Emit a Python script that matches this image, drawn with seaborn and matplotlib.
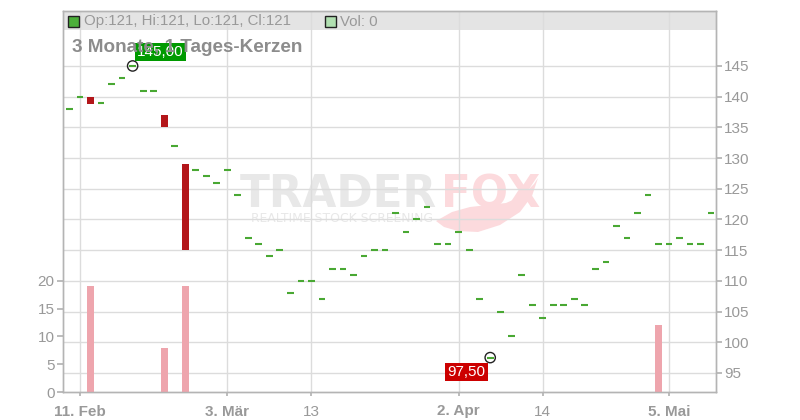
import numpy as np
import matplotlib
matplotlib.use("Agg")
import matplotlib.pyplot as plt
from matplotlib.patches import Rectangle, Polygon
import seaborn as sns

# Set visual style
sns.set_theme(style="white")
plt.rcParams['font.family'] = ['Liberation Sans', 'DejaVu Sans']

# trading days, 10 Feb - 9 May
dates = ['10.02', '11.02', '12.02', '13.02', '14.02', '17.02', '18.02', '19.02', '20.02', '21.02',
         '24.02', '25.02', '26.02', '27.02', '28.02', '03.03', '04.03', '05.03', '06.03', '07.03',
         '10.03', '11.03', '12.03', '13.03', '14.03', '17.03', '18.03', '19.03', '20.03', '21.03',
         '24.03', '25.03', '26.03', '27.03', '28.03', '31.03', '01.04', '02.04', '03.04', '04.04',
         '07.04', '08.04', '09.04', '10.04', '11.04', '14.04', '15.04', '16.04', '17.04', '22.04',
         '23.04', '24.04', '25.04', '28.04', '29.04', '30.04', '02.05', '05.05', '06.05', '07.05',
         '08.05', '09.05']
opens = [138, 140, 140, 139, 142, 143, 145, 141, 141, 137,
         132, 129, 128, 127, 126, 128, 124, 117, 116, 114,
         115, 108, 110, 110, 107, 112, 112, 111, 114, 115,
         115, 121, 118, 120, 122, 116, 116, 118, 115, 107,
         97.5, 105, 101, 111, 106, 104, 106, 106, 107, 106,
         112, 113, 119, 117, 121, 124, 116, 116, 117, 116,
         116, 121]
closes = [138, 140, 138.8, 139, 142, 143, 145, 141, 141, 135,
          132, 115, 128, 127, 126, 128, 124, 117, 116, 114,
          115, 108, 110, 110, 107, 112, 112, 111, 114, 115,
          115, 121, 118, 120, 122, 116, 116, 118, 115, 107,
          97.5, 105, 101, 111, 106, 104, 106, 106, 107, 106,
          112, 113, 119, 117, 121, 124, 116, 116, 117, 116,
          116, 121]
volumes = [0, 0, 19, 0, 0, 0, 0, 0, 0, 8,
           0, 19, 0, 0, 0, 0, 0, 0, 0, 0,
           0, 0, 0, 0, 0, 0, 0, 0, 0, 0,
           0, 0, 0, 0, 0, 0, 0, 0, 0, 0,
           0, 0, 0, 0, 0, 0, 0, 0, 0, 0,
           0, 0, 0, 0, 0, 0, 12, 0, 0, 0,
           0, 0]
tick_days = [1, 15, 23, 37, 45, 57]
tick_labels = ['11. Feb', '3. Mär', '13', '2. Apr', '14', '5. Mai']
tick_bold = [True, True, False, True, False, True]
price_ticks = [95, 100, 105, 110, 115, 120, 125, 130, 135, 140, 145]
vol_ticks = [0, 5, 10, 15, 20]
title = '3 Monate, 1 Tages-Kerzen'
legend_ohlc = 'Op:121, Hi:121, Lo:121, Cl:121'
legend_vol = 'Vol: 0'

idx = np.arange(len(dates))
o = np.array(opens, dtype=float)
c = np.array(closes, dtype=float)

GREEN = '#49a833'
RED = '#b3161a'
PINK = '#eea5ad'
GRID = '#dcdcdc'
TXT = '#999999'
SPINE = '#b4b4b4'
WM_GREY = '#e8e8e8'
WM_PINK = '#fcdadd'


def fx(px):
    return px / 800


def fy(py):
    return (420 - py) / 420


fig = plt.figure(figsize=(8, 4.2), dpi=100)
ax = fig.add_axes([fx(63), fy(392), fx(653), 381 / 420])
ax_vol = ax.twinx()

# price axis (right)
ax.set_xlim(-0.62, 61.47)
ax.set_ylim(91.9, 153.95)
ax.set_axisbelow(True)
ax.grid(True, color=GRID, lw=1)
ax.yaxis.tick_right()
ax.set_yticks(price_ticks)
ax.set_xticks(tick_days)
ax.set_xticklabels(tick_labels)
for lbl, b in zip(ax.get_xticklabels(), tick_bold):
    lbl.set_fontweight('bold' if b else 'normal')
ax.tick_params(axis='y', right=True, left=False, length=4, pad=2, colors=SPINE,
               labelcolor=TXT, labelsize=11)
ax.tick_params(axis='x', bottom=True, length=3, pad=6, colors=SPINE,
               labelcolor=TXT, labelsize=11)

# header band behind grid
ax.add_patch(Rectangle((0, 0.9501), 1, 0.0499, transform=ax.transAxes,
                       facecolor='#e4e4e4', edgecolor='none', zorder=0.2))

# watermark
ax.text(fx(240), fy(207), 'TRADER', transform=fig.transFigure,
        fontsize=31.5, fontweight='bold', family='DejaVu Sans', color=WM_GREY,
        va='baseline', ha='left', zorder=0.3)
ax.text(fx(441), fy(207), 'FOX', transform=fig.transFigure,
        fontsize=31.5, fontweight='bold', family='DejaVu Sans', color=WM_PINK,
        va='baseline', ha='left', zorder=0.3)
ax.text(fx(251), fy(219), 'REALTIME STOCK SCREENING', transform=fig.transFigure,
        fontsize=8.9, family='DejaVu Sans', color=WM_GREY,
        va='center', ha='left', zorder=0.3)
# fox tail swoosh
tail = [(436, 221), (452, 212), (470, 207), (488, 205), (506, 203), (522, 196),
        (534, 184), (538, 178), (532, 196), (520, 212), (500, 225), (478, 232),
        (458, 231), (444, 227)]
ax.add_patch(Polygon([(fx(px), fy(py)) for px, py in tail], closed=True,
                     transform=fig.transFigure, facecolor=WM_PINK, edgecolor='none',
                     zorder=0.3))

# candles: flat days as dashes, falling days as red bodies
flat = o == c
ax.hlines(c[flat], idx[flat] - 0.32, idx[flat] + 0.32, color=GREEN, lw=1.5, zorder=3)
down = c < o
ax.bar(idx[down], o[down] - c[down], bottom=c[down], width=0.65, color=RED,
       linewidth=0, zorder=3)

# extremes
hi_i = int(np.argmax(c))
lo_i = int(np.argmin(c))
ax.scatter([hi_i, lo_i], [c[hi_i], c[lo_i]], s=55, facecolor='none',
           edgecolor='#222222', linewidth=1, zorder=4)
ax.annotate(f'{c[hi_i]:.2f}'.replace('.', ','), (hi_i, c[hi_i]), xytext=(20, 10),
            textcoords='offset points', ha='center', va='center', color='white',
            fontsize=11, zorder=5,
            bbox=dict(boxstyle='square,pad=0.15', fc='#009a00', ec='none'))
ax.annotate(f'{c[lo_i]:.2f}'.replace('.', ','), (lo_i, c[lo_i]), xytext=(-17, -10.5),
            textcoords='offset points', ha='center', va='center', color='white',
            fontsize=11, zorder=5,
            bbox=dict(boxstyle='square,pad=0.15', fc='#cc0000', ec='none'))

# volume axis (left)
sns.barplot(x=idx, y=volumes, native_scale=True, width=0.65, color=PINK,
            saturation=1, linewidth=0, ax=ax_vol)
ax_vol.set_xlim(-0.62, 61.47)
ax_vol.set_ylim(0, 68.6)
ax_vol.yaxis.tick_left()
ax_vol.set_yticks(vol_ticks)
ax_vol.set_xticks(tick_days)
ax_vol.set_xticklabels(tick_labels)
for lbl, b in zip(ax_vol.get_xticklabels(), tick_bold):
    lbl.set_fontweight('bold' if b else 'normal')
ax_vol.tick_params(axis='x', bottom=True, length=3, pad=6, colors=SPINE,
                   labelcolor=TXT, labelsize=11)
ax_vol.tick_params(axis='y', left=True, right=False, length=4, pad=2, colors=SPINE,
                   labelcolor=TXT, labelsize=11)
ax_vol.grid(False)
ax_vol.set_xlabel('')
ax_vol.set_ylabel('')

for a in (ax, ax_vol):
    for s in a.spines.values():
        s.set_color(SPINE)
        s.set_linewidth(1)

# legend row and title
fig.patches.append(Rectangle((fx(68), fy(27)), 11 / 800, 11 / 420,
                             transform=fig.transFigure, facecolor='#4caf3a',
                             edgecolor='#222222', lw=1, zorder=5))
fig.text(fx(84), fy(21.5), legend_ohlc, color=TXT, fontsize=10.8,
         va='center', ha='left')
fig.patches.append(Rectangle((fx(325), fy(27)), 11 / 800, 11 / 420,
                             transform=fig.transFigure, facecolor='#b1e0b1',
                             edgecolor='#222222', lw=1, zorder=5))
fig.text(fx(340), fy(21.5), legend_vol, color=TXT, fontsize=10.8,
         va='center', ha='left')
fig.text(fx(72), fy(48), title, color='#8c8c8c', fontsize=13.6,
         fontweight='bold', va='center', ha='left')

fig.savefig('out.png', dpi=100)
plt.close(fig)
